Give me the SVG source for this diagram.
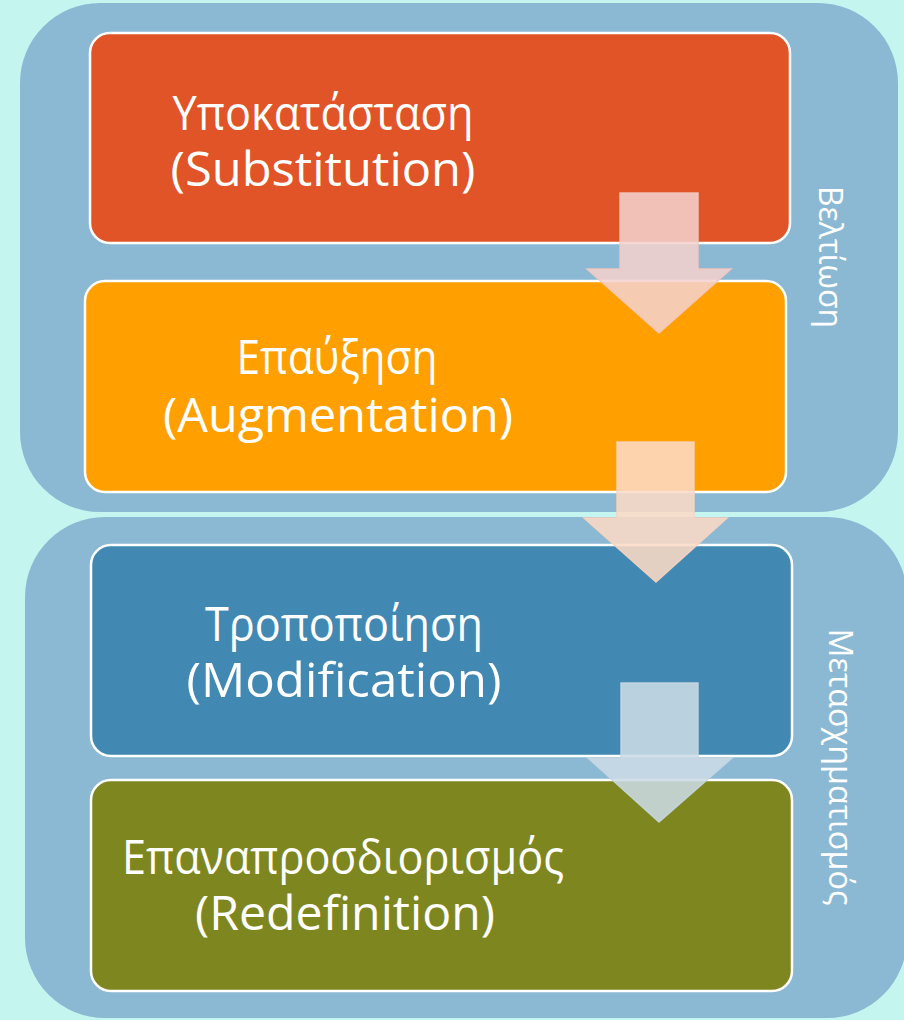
<svg xmlns="http://www.w3.org/2000/svg" width="904" height="1020" viewBox="0 0 904 1020">
<defs>
<style>
.cont{fill:#8BB9D4;}
.box{stroke:#FFFFFF;stroke-width:2.5;}
.lbl{font-family:"Open Sans","Noto Sans","DejaVu Sans",sans-serif;font-size:47px;fill:#FFFFFF;text-anchor:middle;}
.side{font-family:"Open Sans","Noto Sans","DejaVu Sans",sans-serif;font-size:33px;fill:#FFFFFF;text-anchor:middle;}
.arr{stroke-width:1.5;}
</style>
</defs>
<rect x="0" y="0" width="904" height="1020" fill="#C5F5EF"/>
<g id="group-improvement">
<rect class="cont" x="20" y="3" width="878" height="509" rx="80" ry="80"/>
<text class="side" transform="translate(819,257) rotate(90)" textLength="142" lengthAdjust="spacingAndGlyphs">Βελτίωση</text>
</g>
<g id="group-transformation">
<rect class="cont" x="25" y="517" width="882" height="501" rx="80" ry="80"/>
<text class="side" transform="translate(829,767) rotate(90)" textLength="277" lengthAdjust="spacingAndGlyphs">Μετασχηματισμός</text>
</g>
<g id="node-substitution">
<rect class="box" x="90" y="33" width="700" height="210" rx="20" ry="20" fill="#E05427"/>
<text class="lbl" x="323" y="130" textLength="301" lengthAdjust="spacingAndGlyphs">Υποκατάσταση</text>
<text class="lbl" x="323" y="186" textLength="305" lengthAdjust="spacingAndGlyphs">(Substitution)</text>
</g>
<g id="node-augmentation">
<rect class="box" x="85" y="281" width="701" height="211" rx="20" ry="20" fill="#FF9F00"/>
<text class="lbl" x="337" y="374" textLength="201" lengthAdjust="spacingAndGlyphs">Επαύξηση</text>
<text class="lbl" x="338" y="432" textLength="350" lengthAdjust="spacingAndGlyphs">(Augmentation)</text>
</g>
<g id="node-modification">
<rect class="box" x="91" y="545" width="701" height="211" rx="20" ry="20" fill="#4189B2"/>
<text class="lbl" x="344" y="641" textLength="278" lengthAdjust="spacingAndGlyphs">Τροποποίηση</text>
<text class="lbl" x="344" y="697" textLength="315" lengthAdjust="spacingAndGlyphs">(Modification)</text>
</g>
<g id="node-redefinition">
<rect class="box" x="91" y="780" width="701" height="211" rx="20" ry="20" fill="#7E871F"/>
<text class="lbl" x="343" y="874" textLength="442" lengthAdjust="spacingAndGlyphs">Επαναπροσδιορισμός</text>
<text class="lbl" x="345" y="930" textLength="300" lengthAdjust="spacingAndGlyphs">(Redefinition)</text>
</g>
<g id="connectors">
<polygon class="arr" points="620,193 698,193 698,269 731,269 659,333 587,269 620,269" fill="#F3D1CC" fill-opacity="0.87" stroke="#F4C8C0" stroke-opacity="0.9"/>
<polygon class="arr" points="617,442 694,442 694,518 727,518 656,582 584,518 617,518" fill="#FBDAC6" fill-opacity="0.87" stroke="#FBD3BC" stroke-opacity="0.9"/>
<polygon class="arr" points="621,683 698,683 698,758 732,758 659,822 588,758 621,758" fill="#CCDBE6" fill-opacity="0.87" stroke="#C6D6E2" stroke-opacity="0.9"/>
</g>
</svg>
